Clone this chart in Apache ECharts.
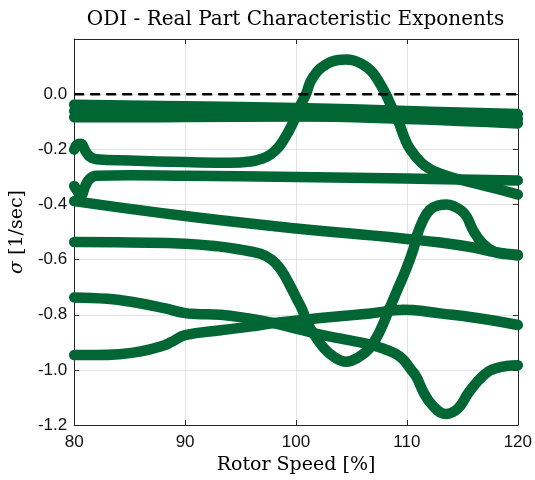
<!DOCTYPE html>
<html>
<head>
<meta charset="utf-8">
<script src="https://cdn.jsdelivr.net/npm/echarts@6/dist/echarts.min.js"></script>
<style>
  html, body { margin: 0; padding: 0; background: #fff; }
  #chart { width: 535px; height: 480px; }
</style>
</head>
<body>
<div id="chart"></div>
<script>
// Rotor speed [%] vs real part of characteristic exponents [1/sec]
const xTicks = [80, 90, 100, 110, 120];
const yTicks = [-1.2, -1.0, -0.8, -0.6, -0.4, -0.2, 0.0];

// Nearly-neutral cluster just below zero
const modeBand1 = [[80,-0.038],[90,-0.044],[100,-0.050],[110,-0.061],[120,-0.072]];
const modeBand2 = [[80,-0.061],[90,-0.064],[100,-0.066],[110,-0.075],[120,-0.089]];
const modeBand3 = [[80,-0.084],[90,-0.083],[100,-0.081],[110,-0.090],[120,-0.106]];

// Mode that goes unstable between ~101% and ~108%
const modeA = [[80,-0.201],[80.3,-0.182],[80.6,-0.180],[81.0,-0.205],[81.4,-0.226],[82,-0.236],[85,-0.241],
  [90,-0.246],[94,-0.249],[95.9,-0.244],[97,-0.233],[97.7,-0.219],[98.4,-0.193],[98.9,-0.165],[99.4,-0.130],
  [99.85,-0.093],[100.4,-0.040],[100.9,0.0],[101.3,0.045],[101.9,0.082],[102.5,0.102],[103.1,0.116],
  [103.8,0.124],[104.5,0.126],[105.2,0.122],[105.8,0.112],[106.4,0.097],[106.95,0.076],[107.5,0.043],
  [108.1,0.0],[108.6,-0.045],[109.2,-0.095],[109.8,-0.160],
  [110.3,-0.200],[111.3,-0.249],[112.2,-0.274],[112.8,-0.285],[114.3,-0.305],[116,-0.322],[118,-0.342],[120,-0.364]];

const modeB = [[80,-0.333],[80.3,-0.352],[80.6,-0.368],[81.0,-0.333],[81.4,-0.307],[82,-0.296],[85,-0.294],
  [90,-0.296],[100,-0.300],[110,-0.306],[120,-0.313]];

const modeC = [[80,-0.388],[90,-0.442],[100,-0.487],[106.8,-0.512],[110,-0.525],[113,-0.538],[116,-0.556],
  [118,-0.573],[120,-0.582]];

const modeD = [[80,-0.536],[85,-0.538],[90,-0.542],[93,-0.552],[95,-0.564],[96.8,-0.579],[97.8,-0.600],
  [98.6,-0.634],[99.5,-0.697],[100.1,-0.745],[100.55,-0.780],[101.0,-0.830],[101.3,-0.850],[102.5,-0.920],
  [103.5,-0.955],[104.5,-0.970],[105.6,-0.955],[106.66,-0.920],[107.55,-0.860],[108.4,-0.780],[109.2,-0.704],
  [109.96,-0.632],[110.6,-0.560],[110.85,-0.520],[111.4,-0.462],[112.05,-0.420],[112.8,-0.404],[113.6,-0.400],
  [114.3,-0.408],[114.9,-0.422],[115.4,-0.445],[115.95,-0.492],[116.8,-0.540],[117.9,-0.572],[119,-0.580],[120,-0.585]];

const modeF = [[80,-0.737],[83,-0.742],[85,-0.752],[88,-0.775],[90,-0.794],[91,-0.797],[93.2,-0.800],
  [95.5,-0.812],[98,-0.830],[100,-0.850],[102.2,-0.872],[104.5,-0.890],[106.7,-0.908],[108,-0.925],
  [109,-0.942],[109.65,-0.962],[110.4,-1.000],[110.85,-1.025],[111.55,-1.085],[112.3,-1.128],[113.5,-1.160],
  [114.6,-1.140],[115.6,-1.080],[116.9,-1.020],[118.1,-0.993],[120,-0.983]];

const modeG = [[80,-0.946],[82,-0.946],[84,-0.943],[86,-0.933],[88,-0.912],[88.7,-0.900],[90,-0.874],
  [93.2,-0.856],[96,-0.842],[98,-0.830],[102.2,-0.812],[106.7,-0.795],[109.7,-0.782],[110.5,-0.783],
  [113,-0.795],[116,-0.810],[120,-0.837]];

const zeroLine = [[80, 0], [120, 0]];

const modes = [modeBand1, modeBand2, modeBand3, modeA, modeB, modeC, modeD, modeF, modeG];

const green = '#006633';
const axisColor = '#262626';
const gridColor = '#e3e3e3';
const serif = '"DejaVu Serif", serif';

const chart = echarts.init(document.getElementById('chart'), null, { renderer: 'canvas' });

const modeSeries = modes.map(function (d) {
  return {
    type: 'line',
    data: d,
    xAxisIndex: 0,
    yAxisIndex: 0,
    showSymbol: false,
    symbol: 'none',
    smooth: 0.45,
    lineStyle: { color: green, width: 10.5, cap: 'round', join: 'round' },
    silent: true,
    z: 2
  };
});

const option = {
  animation: false,
  backgroundColor: '#fff',
  grid: { left: 73, right: 17, top: 39, bottom: 52, containLabel: false },
  graphic: [{
    type: 'text',
    x: 295.5,
    y: 10,
    style: {
      text: 'ODI - Real Part Characteristic Exponents',
      font: '20px ' + serif,
      fill: '#000',
      textAlign: 'center',
      textVerticalAlign: 'top'
    }
  }],
  xAxis: [{
    type: 'value',
    min: 80, max: 120, interval: 10,
    position: 'bottom',
    axisLine: { show: true, onZero: false, lineStyle: { color: axisColor, width: 1 } },
    axisTick: { show: true, inside: true, length: 5, lineStyle: { color: axisColor } },
    splitLine: { show: true, lineStyle: { color: gridColor, width: 1 } },
    axisLabel: {
      color: '#111', fontSize: 17, fontFamily: '"Liberation Sans", Arial, sans-serif', margin: 9,
      formatter: function (v) { return xTicks.indexOf(v) >= 0 ? String(v) : ''; }
    },
    name: 'Rotor Speed [%]',
    nameLocation: 'middle',
    nameGap: 27,
    nameTextStyle: { color: '#000', fontSize: 19, fontFamily: serif }
  }, {
    type: 'value',
    min: 80, max: 120, interval: 10,
    position: 'top',
    axisLine: { show: true, onZero: false, lineStyle: { color: axisColor, width: 1 } },
    axisTick: { show: true, inside: true, length: 5, lineStyle: { color: axisColor } },
    splitLine: { show: false },
    axisLabel: { show: false }
  }],
  yAxis: [{
    type: 'value',
    min: -1.2, max: 0.2, interval: 0.2,
    position: 'left',
    axisLine: { show: true, onZero: false, lineStyle: { color: axisColor, width: 1 } },
    axisTick: { show: true, inside: true, length: 5, lineStyle: { color: axisColor } },
    splitLine: { show: true, lineStyle: { color: gridColor, width: 1 } },
    axisLabel: {
      color: '#111', fontSize: 17, fontFamily: '"Liberation Sans", Arial, sans-serif', margin: 7,
      formatter: function (v) {
        const r = Math.round(v * 10) / 10;
        for (let i = 0; i < yTicks.length; i++) {
          if (Math.abs(yTicks[i] - r) < 1e-9) return (Math.abs(r) < 1e-9 ? 0 : r).toFixed(1);
        }
        return '';
      }
    },
    name: '{s|σ} [1/sec]',
    nameLocation: 'middle',
    nameGap: 42,
    nameRotate: 90,
    nameTextStyle: {
      color: '#000', fontSize: 19, fontFamily: serif,
      rich: { s: { fontSize: 19, fontStyle: 'italic', fontFamily: serif, color: '#000' } }
    }
  }, {
    type: 'value',
    min: -1.2, max: 0.2, interval: 0.2,
    position: 'right',
    axisLine: { show: true, onZero: false, lineStyle: { color: axisColor, width: 1 } },
    axisTick: { show: true, inside: true, length: 5, lineStyle: { color: axisColor } },
    splitLine: { show: false },
    axisLabel: { show: false }
  }],
  series: modeSeries.concat([{
    type: 'line',
    data: zeroLine,
    xAxisIndex: 0,
    yAxisIndex: 0,
    showSymbol: false,
    symbol: 'none',
    lineStyle: { color: '#000', width: 2.5, type: [10, 6] },
    silent: true,
    z: 5
  }])
};

chart.setOption(option);
</script>
</body>
</html>
